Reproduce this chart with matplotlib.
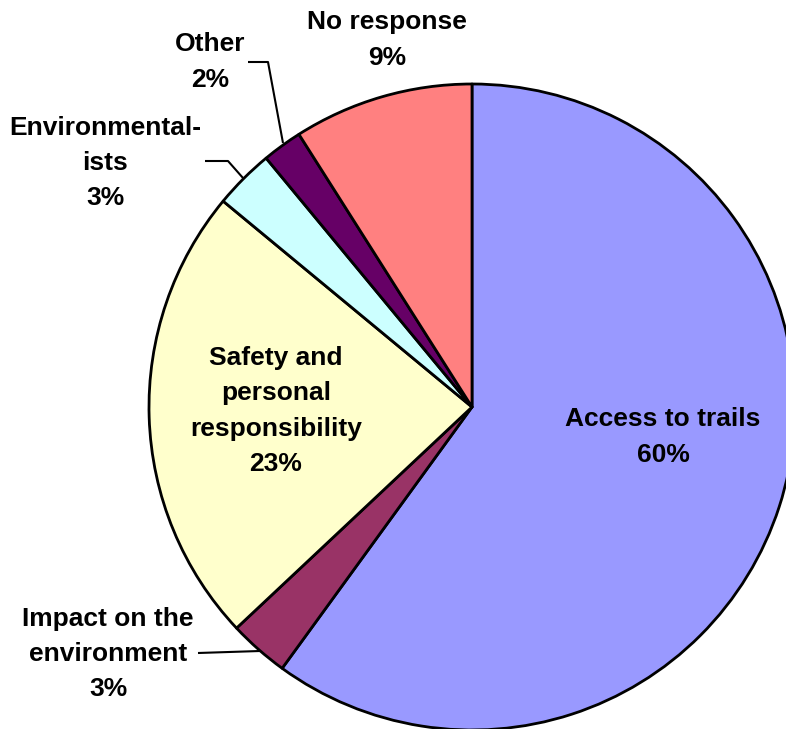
import matplotlib
matplotlib.use("Agg")
import matplotlib.pyplot as plt

categories = ["Access to trails", "Impact on the\nenvironment", "Safety and\npersonal\nresponsibility",
              "Environmental-\nists", "Other", "No response"]
values = [60, 3, 23, 3, 2, 9]
colors = ["#9999FF", "#993366", "#FFFFCC", "#CCFFFF", "#660066", "#FF8080"]

W, H = 786, 729
fig = plt.figure(figsize=(W / 100, H / 100), dpi=100)
ax = fig.add_axes([0, 0, 1, 1])

cx, cy, R = 472, H - 407, 323
ax.pie(values, colors=colors, startangle=90, counterclock=False, radius=R, center=(cx, cy),
       wedgeprops=dict(edgecolor="black", linewidth=2.0, joinstyle="round"), frame=False)
ax.set_xlim(0, W)
ax.set_ylim(0, H)
ax.set_aspect("equal")
ax.axis("off")

font = dict(family=["Liberation Sans", "DejaVu Sans"], fontsize=19, fontweight="bold",
            ha="center", va="center", linespacing=1.6)

# label positions in pixel coords (from top)
label_pos = [(663, 437), (108, 654), (276, 411), (105, 163), (210, 62), (387, 40)]
for cat, v, (x, y) in zip(categories, values, label_pos):
    ax.text(x, H - y, f"{cat}\n{v}%", **font)

# leader lines
leaders = [
    [(283, 143), (268, 62), (248, 62)],
    [(243, 178), (228, 161), (205, 161)],
    [(260, 651), (198, 653)],
]
for pts in leaders:
    xs = [p[0] for p in pts]
    ys = [H - p[1] for p in pts]
    ax.plot(xs, ys, color="black", linewidth=1.5, solid_capstyle="butt")

fig.savefig("out.png", dpi=100)
